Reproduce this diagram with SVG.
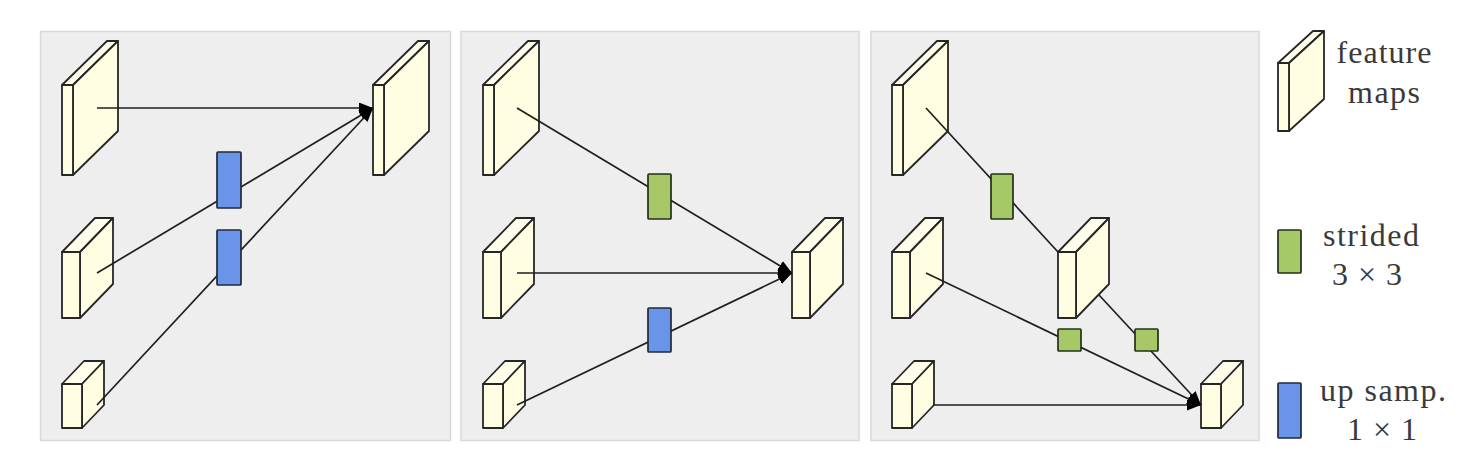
<svg xmlns="http://www.w3.org/2000/svg" width="1470" height="464" viewBox="0 0 1470 464">
<defs>
<style>
.panel{fill:#eeeeee;stroke:#d9d9d9;stroke-width:1.5}
.face{fill:#fffde2;stroke:#262626;stroke-width:1.8;stroke-linejoin:round}
.top{fill:#fffeea;stroke:#262626;stroke-width:1.8;stroke-linejoin:round}
.blue{fill:#6a94e8;stroke:#1f2a3a;stroke-width:1.7}
.green{fill:#a6c867;stroke:#233018;stroke-width:1.7}
.conn{stroke:#1e1e1e;stroke-width:1.7;fill:none}
.lbl{font-family:"Liberation Serif","Times New Roman",serif;font-size:32px;fill:#3a3a3a;text-anchor:middle}
</style>
<marker id="arr" markerUnits="userSpaceOnUse" markerWidth="15" markerHeight="12" refX="14" refY="5.5" orient="auto">
<path d="M0,0 L14,5.5 L0,11 Z" fill="#000"/>
</marker>
<g id="boxA">
<path class="top" d="M0,0 L11,0 L56,-44 L45,-44 Z"/>
<path class="face" d="M11,0 L56,-44 L56,46 L11,90 Z"/>
<rect class="face" x="0" y="0" width="11" height="90"/>
</g>
<g id="boxB">
<path class="top" d="M0,0 L18,0 L51,-34 L33,-34 Z"/>
<path class="face" d="M18,0 L51,-34 L51,32 L18,66 Z"/>
<rect class="face" x="0" y="0" width="18" height="66"/>
</g>
<g id="boxC">
<path class="top" d="M0,0 L20,0 L42,-23 L22,-23 Z"/>
<path class="face" d="M20,0 L42,-23 L42,21 L20,44 Z"/>
<rect class="face" x="0" y="0" width="20" height="44"/>
</g>
<g id="boxL">
<path class="top" d="M0,0 L11,0 L46,-32 L35,-32 Z"/>
<path class="face" d="M11,0 L46,-32 L46,36 L11,68 Z"/>
<rect class="face" x="0" y="0" width="11" height="68"/>
</g>
</defs>

<rect x="0" y="0" width="1470" height="464" fill="#ffffff"/>

<g id="panels">
<rect class="panel" x="40.5" y="31.5" width="410" height="409"/>
<rect class="panel" x="461" y="31.5" width="398" height="409"/>
<rect class="panel" x="871" y="31.5" width="388" height="409"/>
</g>

<g id="p1-fm1"><use href="#boxA" x="62" y="85"/></g>
<g id="p1-fm2"><use href="#boxB" x="62" y="252"/></g>
<g id="p1-fm3"><use href="#boxC" x="62" y="384"/></g>
<g id="p1-out"><use href="#boxA" x="373" y="85"/></g>

<g id="p2-fm1"><use href="#boxA" x="483" y="85"/></g>
<g id="p2-fm2"><use href="#boxB" x="483" y="252"/></g>
<g id="p2-fm3"><use href="#boxC" x="483" y="384"/></g>
<g id="p2-out"><use href="#boxB" x="792" y="252"/></g>

<g id="p3-fm1"><use href="#boxA" x="892" y="85"/></g>
<g id="p3-fm2"><use href="#boxB" x="892" y="252"/></g>
<g id="p3-fm3"><use href="#boxC" x="892" y="384"/></g>
<g id="p3-mid"><use href="#boxB" x="1058" y="252"/></g>
<g id="p3-out"><use href="#boxC" x="1201" y="384"/></g>

<g id="connectors">
<line class="conn" x1="97" y1="108" x2="373" y2="108" marker-end="url(#arr)"/>
<line class="conn" x1="97" y1="273" x2="373" y2="108" marker-end="url(#arr)"/>
<line class="conn" x1="97" y1="405" x2="373" y2="108" marker-end="url(#arr)"/>
<line class="conn" x1="517" y1="108" x2="792" y2="273" marker-end="url(#arr)"/>
<line class="conn" x1="517" y1="273" x2="792" y2="273" marker-end="url(#arr)"/>
<line class="conn" x1="517" y1="405" x2="792" y2="273" marker-end="url(#arr)"/>
<line class="conn" x1="926" y1="108" x2="1058" y2="252"/>
<line class="conn" x1="1099" y1="295" x2="1201" y2="405" marker-end="url(#arr)"/>
<line class="conn" x1="926" y1="273" x2="1201" y2="405" marker-end="url(#arr)"/>
<line class="conn" x1="933" y1="405" x2="1201" y2="405" marker-end="url(#arr)"/>
</g>

<g id="p1-up1"><rect class="blue" x="217" y="152" width="24" height="56" rx="1"/></g>
<g id="p1-up2"><rect class="blue" x="217" y="230" width="24" height="55" rx="1"/></g>
<g id="p2-str"><rect class="green" x="648" y="174" width="23" height="45" rx="1"/></g>
<g id="p2-up"><rect class="blue" x="648" y="308" width="23" height="44" rx="1"/></g>
<g id="p3-str1"><rect class="green" x="991" y="174" width="22" height="45" rx="1"/></g>
<g id="p3-str2"><rect class="green" x="1058" y="329" width="23" height="22" rx="1"/></g>
<g id="p3-str3"><rect class="green" x="1135" y="329" width="23" height="22" rx="1"/></g>

<g id="legend-fm">
<use href="#boxL" x="1278" y="63"/>
<text class="lbl" x="1384" y="63" textLength="95">feature</text>
<text class="lbl" x="1384" y="103" textLength="72">maps</text>
</g>
<g id="legend-strided">
<rect class="green" x="1278" y="230" width="23" height="43" rx="1"/>
<text class="lbl" x="1371" y="246" textLength="96">strided</text>
<text class="lbl" x="1367" y="285" textLength="70">3 × 3</text>
</g>
<g id="legend-up">
<rect class="blue" x="1278" y="383" width="23" height="55" rx="1"/>
<text class="lbl" x="1383" y="401" textLength="126">up samp.</text>
<text class="lbl" x="1382" y="440" textLength="70">1 × 1</text>
</g>
</svg>
